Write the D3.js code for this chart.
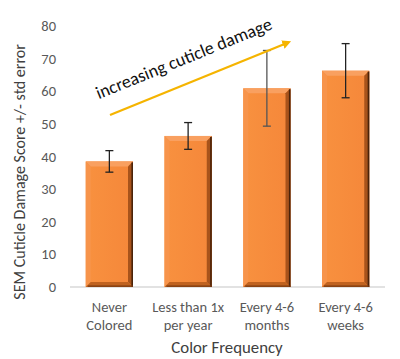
<!DOCTYPE html>
<html><head><meta charset="utf-8">
<script src="https://cdn.jsdelivr.net/npm/d3@7"></script>
<style>body{margin:0;background:#fff;} svg{display:block;font-family:Calibri,Carlito,Lato,"Open Sans",sans-serif;}</style>
</head><body><svg id="c" width="400" height="359"></svg>
<script>
const categories = [["Never","Colored"],["Less than 1x","per year"],["Every 4-6","months"],["Every 4-6","weeks"]];
const values = [38.5, 46.3, 60.9, 66.3];
const errors = [3.3, 4.1, 11.6, 8.3];
const yTicks = [0,10,20,30,40,50,60,70,80];
const annotation = "increasing cuticle damage";
const yTitle = "SEM Cuticle Damage Score +/- std error";
const xTitle = "Color Frequency";

const svg = d3.select("#c");
const m = {l:70, r:15, t:26, b:72};
const W = 400, H = 359;
const x = d3.scaleBand().domain(d3.range(values.length)).range([m.l, W-m.r]).paddingInner(0.4).paddingOuter(0.2);
const y = d3.scaleLinear().domain([0,80]).range([287, 26]);

const defs = svg.append("defs");
const g1 = defs.append("linearGradient").attr("id","face").attr("x1",0).attr("x2",1).attr("y1",0).attr("y2",0);
g1.append("stop").attr("offset","0%").attr("stop-color","#f8913f");
g1.append("stop").attr("offset","100%").attr("stop-color","#f5873a");

// axis ticks (labels only)
svg.append("g").selectAll("text").data(yTicks).join("text")
  .attr("x", 56).attr("y", d=>y(d)).attr("dy","0.35em").attr("text-anchor","end")
  .attr("font-size",14.5).attr("fill","#595959").text(d=>d);

// baseline
svg.append("line").attr("x1",m.l).attr("x2",W-m.r).attr("y1",y(0)).attr("y2",y(0))
  .attr("stroke","#d9d9d9").attr("stroke-width",1.3);

// bars
const bev = 5;
const bars = svg.append("g").selectAll("g").data(values).join("g");
bars.each(function(d,i){
  const g = d3.select(this);
  const x0 = x(i), x1 = x(i)+x.bandwidth(), y0 = y(d), y1 = y(0);
  g.append("rect").attr("x",x0).attr("y",y0).attr("width",x1-x0).attr("height",y1-y0).attr("fill","url(#face)");
  g.append("polygon").attr("points",[[x0,y0],[x1,y0],[x1-bev,y0+bev],[x0+bev,y0+bev]].join(" ")).attr("fill","#f9a060");
  g.append("polygon").attr("points",[[x0,y0],[x0+bev,y0+bev],[x0+bev,y1-bev],[x0,y1]].join(" ")).attr("fill","#f7944b");
  g.append("polygon").attr("points",[[x1,y0],[x1-bev,y0+bev],[x1-bev,y1-bev],[x1,y1]].join(" ")).attr("fill","#a8531b");
  g.append("polygon").attr("points",[[x0,y1],[x0+bev,y1-bev],[x1-bev,y1-bev],[x1,y1]].join(" ")).attr("fill","#c0621f");
  g.append("line").attr("x1",x1-0.8).attr("x2",x1-0.8).attr("y1",y0+1).attr("y2",y1).attr("stroke","#4a230a").attr("stroke-width",1.6);
  g.append("line").attr("x1",x0+2).attr("x2",x1).attr("y1",y1-0.8).attr("y2",y1-0.8).attr("stroke","#7a3a10").attr("stroke-width",1.2);
});

// error bars
const eb = svg.append("g").attr("stroke-width",1.3);
values.forEach((d,i)=>{
  const cx = x(i)+x.bandwidth()/2;
  const col = i===2 ? "#555" : "#222";
  eb.append("line").attr("x1",cx).attr("x2",cx).attr("y1",y(d+errors[i])).attr("y2",y(d-errors[i])).attr("stroke",col);
  [d+errors[i], d-errors[i]].forEach(v=>eb.append("line").attr("x1",cx-4).attr("x2",cx+4).attr("y1",y(v)).attr("y2",y(v)).attr("stroke",col));
});

// category labels
const cl = svg.append("g").selectAll("text").data(categories).join("text")
  .attr("x",(d,i)=>x(i)+x.bandwidth()/2).attr("y",312).attr("text-anchor","middle")
  .attr("font-size",14.5).attr("fill","#595959");
cl.each(function(d){
  const t = d3.select(this);
  d.forEach((s,k)=>t.append("tspan").attr("x",t.attr("x")).attr("dy",k?18:0).text(s));
});

// titles
svg.append("text").attr("x",227).attr("y",353).attr("text-anchor","middle").attr("font-size",16.8).attr("fill","#404040").text(xTitle);
svg.append("text").attr("transform","translate(25,172) rotate(-90)").attr("text-anchor","middle").attr("font-size",16).attr("fill","#404040").text(yTitle);

// arrow annotation
defs.append("marker").attr("id","ah").attr("viewBox","0 0 10 10").attr("refX",5).attr("refY",5)
  .attr("markerWidth",4).attr("markerHeight",4).attr("orient","auto")
  .append("path").attr("d","M0,0 L10,5 L0,10 z").attr("fill","#f5b400");
svg.append("line").attr("x1",110).attr("y1",115).attr("x2",287).attr("y2",43)
  .attr("stroke","#f5b400").attr("stroke-width",2.2).attr("marker-end","url(#ah)");
svg.append("text").attr("transform","translate(186,64) rotate(-22)").attr("text-anchor","middle")
  .attr("font-size",18).attr("fill","#111").text(annotation);
</script></body></html>
